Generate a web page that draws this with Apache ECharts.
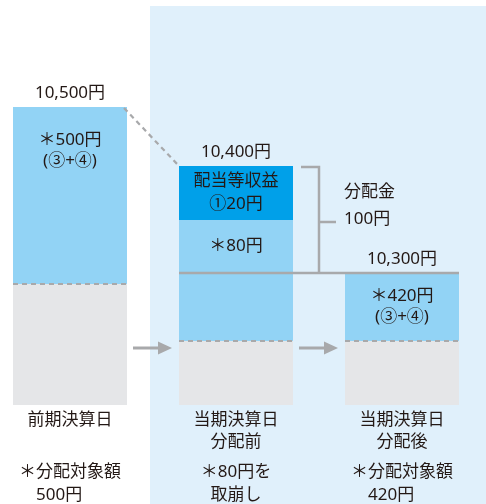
<!DOCTYPE html>
<html><head><meta charset="utf-8">
<script src="https://cdn.jsdelivr.net/npm/echarts@6/dist/echarts.min.js"></script>
<style>html,body{margin:0;padding:0;background:#fff}#c{width:486px;height:504px}</style>
</head><body><div id="c"></div>
<script>
// ---- data ----
const categories = ['前期決算日', '当期決算日\n分配前', '当期決算日\n分配後'];
const notes = [['＊分配対象額', '　500円'], ['＊80円を', '取崩し'], ['＊分配対象額', '　420円']];
const totalLabels = ['10,500円', '10,400円', '10,300円'];
// schematic segment heights (the diagram is not drawn to scale)
const baseUnits = [121, 64, 64];        // gray base
const reserveUnits = [177, 68, 68];     // distributable amount (light blue)
const drawdownUnits = [null, 53, null]; // ＊80円 drawn down
const incomeUnits = [null, 54, null];   // ①20円 income
const reserveLabels = ['＊500円\n(③+④)', '', '＊420円\n(③+④)'];
const drawdownLabels = ['', '＊80円', ''];
const incomeLabels = ['', '配当等収益\n①20円', ''];
const distributionLabel = '分配金\n100円';

// ---- styling ----
const FONT = '"Noto Sans", "Noto Sans CJK JP", sans-serif';
const TXT = '#231815';
const FS = 17;
const BAR_W = 114;
const GRAY_LINE = '#a8a9ab';

const n = categories.length;
const sumUpTo = (i, arrs) => arrs.reduce((s, a) => s + (a[i] == null ? 0 : a[i]), 0);
const baseTop = categories.map((_, i) => sumUpTo(i, [baseUnits]));
const barTop = categories.map((_, i) => sumUpTo(i, [baseUnits, reserveUnits, drawdownUnits, incomeUnits]));

const labelBase = { color: TXT, fontSize: FS, fontFamily: FONT, lineHeight: 21 };

const chart = echarts.init(document.getElementById('c'), null, { renderer: 'canvas' });

function renderOverlay(params, api) {
  const half = BAR_W / 2;
  const P = (i, v) => api.coord([i, v]);
  const children = [];
  const dash = { stroke: GRAY_LINE, lineWidth: 2.2, lineDash: [5, 4], fill: null };
  const solid = { stroke: GRAY_LINE, lineWidth: 2.5, fill: null };
  for (let i = 0; i < n; i++) {
    const p = P(i, baseTop[i]);
    children.push({ type: 'line', shape: { x1: p[0] - half, y1: p[1], x2: p[0] + half, y2: p[1] }, style: dash });
  }
  const a = P(0, barTop[0]), b = P(1, barTop[1]);
  children.push({ type: 'line', shape: { x1: a[0] + half - 3, y1: a[1] + 1, x2: b[0] - half, y2: b[1] }, style: dash });
  const c2 = P(2, barTop[2]);
  children.push({ type: 'line', shape: { x1: b[0] - half, y1: c2[1], x2: c2[0] + half, y2: c2[1] }, style: solid });
  const xr = b[0] + half;
  const yTop = b[1] + 1;
  const yMid = (yTop + c2[1]) / 2 + 2;
  children.push({ type: 'polyline', shape: { points: [[xr + 8, yTop], [xr + 26, yTop], [xr + 26, c2[1]]] }, style: solid });
  children.push({ type: 'line', shape: { x1: xr + 26, y1: yMid, x2: xr + 43, y2: yMid }, style: solid });
  children.push({ type: 'text', x: xr + 51, y: yTop + 12, style: { text: distributionLabel, fill: TXT, font: FS + 'px ' + FONT, lineHeight: 27, verticalAlign: 'top' } });
  for (let i = 0; i < n - 1; i++) {
    const p0 = P(i, baseTop[i]);
    const p1 = P(i + 1, baseTop[i + 1]);
    const y = p1[1] + 7;
    const x0 = p0[0] + half + 6;
    const x1 = p1[0] - half - 7;
    children.push({ type: 'line', shape: { x1: x0, y1: y, x2: x1 - 12, y2: y }, style: { stroke: GRAY_LINE, lineWidth: 3 } });
    children.push({ type: 'polygon', shape: { points: [[x1 - 14, y - 6.5], [x1, y], [x1 - 14, y + 6.5]] }, style: { fill: GRAY_LINE } });
  }
  return { type: 'group', children };
}

chart.setOption({
  animation: false,
  backgroundColor: '#ffffff',
  textStyle: { fontFamily: FONT },
  graphic: [
    { type: 'rect', z: -10, shape: { x: 150, y: 6, width: 336, height: 498 }, style: { fill: '#e0f0fb' } }
  ],
  grid: { left: -13, right: 1, top: 105, bottom: 99, containLabel: false, outerBoundsMode: 'none' },
  xAxis: {
    type: 'category',
    data: categories,
    axisLine: { show: false },
    axisTick: { show: false },
    axisLabel: {
      interval: 0,
      margin: 4,
      hideOverlap: false,
      formatter: (v, i) => {
        const parts = categories[i].split('\n');
        const st = i === 1 ? 'c' : 'l';
        return '{n|' + parts[0] + '}\n{n|' + (parts[1] || ' ') + '}\n{s| }\n{' + st + '|' + notes[i][0] + '}\n{' + st + '|' + notes[i][1] + '}';
      },
      rich: {
        n: { fontSize: FS, lineHeight: 22, color: TXT, fontFamily: FONT, align: 'center' },
        s: { fontSize: 4, lineHeight: 8 },
        l: { fontSize: FS, lineHeight: 23, color: TXT, fontFamily: FONT, align: 'left' },
        c: { fontSize: FS, lineHeight: 23, color: TXT, fontFamily: FONT, align: 'center' }
      }
    }
  },
  yAxis: { type: 'value', min: 0, max: 300, show: false, splitLine: { show: false } },
  series: [
    { name: 'base', type: 'bar', stack: 'v', barWidth: BAR_W, data: baseUnits,
      itemStyle: { color: '#e5e6e8' } },
    { name: 'reserve', type: 'bar', stack: 'v', barWidth: BAR_W,
      itemStyle: { color: '#92d3f5' },
      data: reserveUnits.map((v, i) => ({
        value: v,
        label: reserveLabels[i] ? Object.assign({ show: true, formatter: reserveLabels[i],
          position: i === 0 ? 'insideTop' : 'inside', distance: 23 }, labelBase) : { show: false }
      })) },
    { name: 'drawdown', type: 'bar', stack: 'v', barWidth: BAR_W,
      itemStyle: { color: '#92d3f5' },
      data: drawdownUnits.map((v, i) => ({ value: v,
        label: drawdownLabels[i] ? Object.assign({ show: true, position: 'inside', formatter: drawdownLabels[i] }, labelBase) : { show: false } })) },
    { name: 'income', type: 'bar', stack: 'v', barWidth: BAR_W,
      itemStyle: { color: '#00a0e9' },
      data: incomeUnits.map((v, i) => ({ value: v,
        label: incomeLabels[i] ? Object.assign({ show: true, position: 'inside', formatter: incomeLabels[i] }, labelBase, { lineHeight: 23 }) : { show: false } })) },
    { name: 'total', type: 'bar', stack: 'v', barWidth: BAR_W,
      itemStyle: { color: 'transparent' },
      data: totalLabels.map(() => 0),
      label: Object.assign({ show: true, position: 'top', distance: 5, formatter: (p) => totalLabels[p.dataIndex] }, labelBase, { lineHeight: 18 }) },
    { name: 'overlay', type: 'custom', clip: false, z: 5, silent: true,
      data: [[0, 0]], renderItem: renderOverlay }
  ]
});
</script>
</body></html>
